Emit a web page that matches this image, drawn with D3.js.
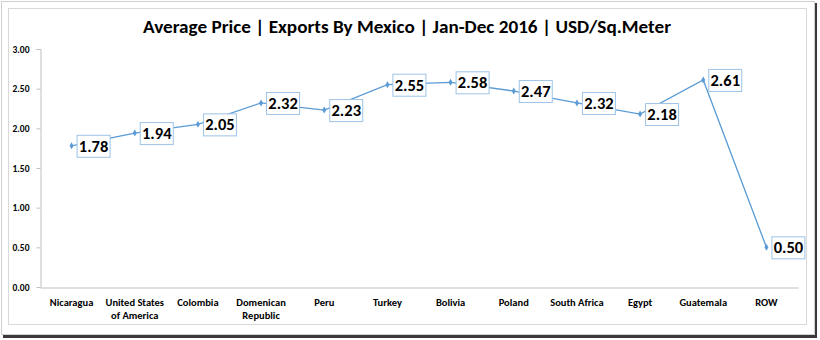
<!DOCTYPE html>
<html><head><meta charset="utf-8">
<script src="https://cdn.jsdelivr.net/npm/d3@7"></script>
<style>body{margin:0;background:#fff}svg{display:block}</style>
</head><body>
<script>
const categories = ["Nicaragua","United States|of America","Colombia","Domenican|Republic","Peru","Turkey","Bolivia","Poland","South Africa","Egypt","Guatemala","ROW"];
const values = [1.78,1.94,2.05,2.32,2.23,2.55,2.58,2.47,2.32,2.18,2.61,0.50];
const yTicks = [0,0.5,1,1.5,2,2.5,3];
const title = "Average Price | Exports By Mexico | Jan-Dec 2016 | USD/Sq.Meter";

const W = 820, H = 340;
const svg = d3.select("body").append("svg").attr("width", W).attr("height", H);

// outer picture frame with shadow
svg.append("rect").attr("x",3).attr("y",3).attr("width",814).attr("height",335).attr("fill","#3a3a3a");
svg.append("rect").attr("x",1.5).attr("y",1.5).attr("width",813).attr("height",333).attr("fill","#fff").attr("stroke","#d0d0d0");
// chart area border
svg.append("rect").attr("x",8.5).attr("y",8.5).attr("width",798).attr("height",316).attr("fill","#fff").attr("stroke","#d9d9d9");

const font = "Calibri, Carlito, 'Open Sans', 'Liberation Sans', sans-serif";

svg.append("text").attr("x",407).attr("y",33).attr("text-anchor","middle")
  .attr("font-family",font).attr("font-size",18).attr("font-weight","bold").attr("fill","#000")
  .attr("textLength",528).attr("lengthAdjust","spacingAndGlyphs").text(title);

const x = d3.scaleBand().domain(categories).range([40,798]);
const y = d3.scaleLinear().domain([0,3]).range([287,49]);

const yAxis = svg.append("g").attr("transform","translate(40.5,0)")
  .call(d3.axisLeft(y).tickValues(yTicks).tickFormat(d3.format(".2f")).tickSize(4).tickPadding(7));
yAxis.select(".domain").attr("stroke","#bfbfbf").attr("d","M-4,49.5H0.5V287.5");
yAxis.selectAll(".tick line").attr("stroke","#bfbfbf");
yAxis.selectAll("text").attr("font-family",font).attr("font-size",9.5).attr("font-weight","bold").attr("fill","#000");

const xAxis = svg.append("g").attr("transform","translate(0,287.5)")
  .call(d3.axisBottom(x).tickSize(0).tickPadding(0));
xAxis.select(".domain").attr("stroke","#bfbfbf");
xAxis.selectAll(".tick text").each(function(d){
  const t = d3.select(this).text(null).attr("font-family",font).attr("font-size",10.5).attr("font-weight","bold").attr("fill","#000").attr("y",0).attr("dy",null);
  d.split("|").forEach((s,i)=>t.append("tspan").attr("x",0).attr("y",18+i*13.5).text(s));
});

const cx = (d,i)=> x(categories[i]) + x.bandwidth()/2;
svg.append("path").datum(values).attr("fill","none").attr("stroke","#5B9BD5").attr("stroke-width",1.3)
  .attr("d", d3.line().x((d,i)=>cx(d,i)).y(d=>y(d)));

svg.selectAll(".mk").data(values).enter().append("path")
  .attr("transform",(d,i)=>`translate(${cx(d,i)},${y(d)})`)
  .attr("d", d3.symbol(d3.symbolDiamond, 14)).attr("fill","#5B9BD5");

const lab = svg.selectAll(".lab").data(values).enter().append("g")
  .attr("transform",(d,i)=>`translate(${cx(d,i)+5},${y(d)})`);
lab.append("rect").attr("x",0.5).attr("y",-10.5).attr("width",33).attr("height",22)
  .attr("fill","#fff").attr("stroke","#9DC3E6").attr("stroke-width",1);
lab.append("text").attr("x",17).attr("y",6).attr("text-anchor","middle")
  .attr("font-family",font).attr("font-size",16.5).attr("font-weight","bold").attr("fill","#000")
  .text(d=>d3.format(".2f")(d));
</script>
</body></html>
